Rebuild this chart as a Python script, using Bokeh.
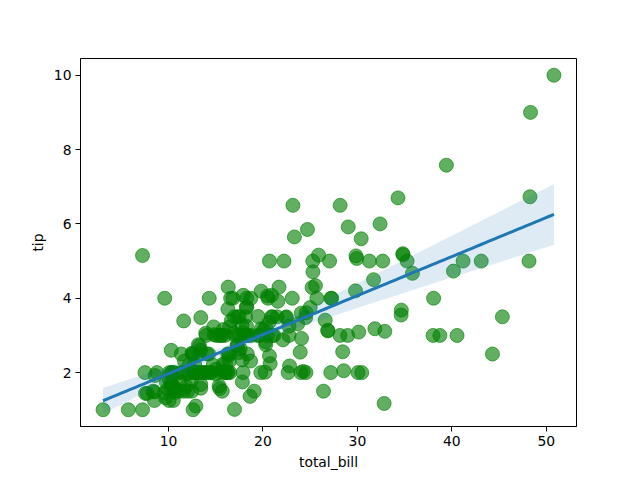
import numpy as np
from bokeh.plotting import figure
from bokeh.models import FixedTicker, Range1d
from bokeh.embed import file_html
from bokeh.resources import INLINE

total_bill = [16.99,10.34,21.01,23.68,24.59,25.29,8.77,26.88,15.04,14.78,10.27,35.26,15.42,18.43,14.83,21.58,10.33,16.29,16.97,20.65,
17.92,20.29,15.77,39.42,19.82,17.81,13.37,12.69,21.7,19.65,9.55,18.35,15.06,20.69,17.78,24.06,16.31,16.93,18.69,31.27,
16.04,17.46,13.94,9.68,30.4,18.29,22.23,32.4,28.55,18.04,12.54,10.29,34.81,9.94,25.56,19.49,38.01,26.41,11.24,48.27,
20.29,13.81,11.02,18.29,17.59,20.08,16.45,3.07,20.23,15.01,12.02,17.07,26.86,25.28,14.73,10.51,17.92,27.2,22.76,17.29,
19.44,16.66,10.07,32.68,15.98,34.83,13.03,18.28,24.71,21.16,28.97,22.49,5.75,16.32,22.75,40.17,27.28,12.03,21.01,12.46,
11.35,15.38,44.3,22.42,20.92,15.36,20.49,25.21,18.24,14.31,14.0,7.25,38.07,23.95,25.71,17.31,29.93,10.65,12.43,24.08,
11.69,13.42,14.26,15.95,12.48,29.8,8.52,14.52,11.38,22.82,19.08,20.27,11.17,12.26,18.26,8.51,10.33,14.15,16.0,13.16,
17.47,34.3,41.19,27.05,16.43,8.35,18.64,11.87,9.78,7.51,14.07,13.13,17.26,24.55,19.77,29.85,48.17,25.0,13.39,16.49,
21.5,12.66,16.21,13.81,17.51,24.52,20.76,31.71,10.59,10.63,50.81,15.81,7.25,31.85,16.82,32.9,17.89,14.48,9.6,34.63,
34.65,23.33,45.35,23.17,40.55,20.69,20.9,30.46,18.15,23.1,15.69,19.81,28.44,15.48,16.58,7.56,10.34,43.11,13.0,13.51,
18.71,12.74,13.0,16.4,20.53,16.47,26.59,38.73,24.27,12.76,30.06,25.89,48.33,13.27,28.17,12.9,28.15,11.59,7.74,30.14,
12.16,13.42,8.58,15.98,13.42,16.27,10.09,20.45,13.28,22.12,24.01,15.69,11.61,10.77,15.53,10.07,12.6,32.83,35.83,29.03,
27.18,22.67,17.82,18.78]
tip = [1.01,1.66,3.5,3.31,3.61,4.71,2.0,3.12,1.96,3.23,1.71,5.0,1.57,3.0,3.02,3.92,1.67,3.71,3.5,3.35,
4.08,2.75,2.23,7.58,3.18,2.34,2.0,2.0,4.3,3.0,1.45,2.5,3.0,2.45,3.27,3.6,2.0,3.07,2.31,5.0,
2.24,2.54,3.06,1.32,5.6,3.0,5.0,6.0,2.05,3.0,2.5,2.6,5.2,1.56,4.34,3.51,3.0,1.5,1.76,6.73,
3.21,2.0,1.98,3.76,2.64,3.15,2.47,1.0,2.01,2.09,1.97,3.0,3.14,5.0,2.2,1.25,3.08,4.0,3.0,2.71,
3.0,3.4,1.83,5.0,2.03,5.17,2.0,4.0,5.85,3.0,3.0,3.5,1.0,4.3,3.25,4.73,4.0,1.5,3.0,1.5,
2.5,3.0,2.5,3.48,4.08,1.64,4.06,4.29,3.76,4.0,3.0,1.0,4.0,2.55,4.0,3.5,5.07,1.5,1.8,2.92,
2.31,1.68,2.5,2.0,2.52,4.2,1.48,2.0,2.0,2.18,1.5,2.83,1.5,2.0,3.25,1.25,2.0,2.0,2.0,2.75,
3.5,6.7,5.0,5.0,2.3,1.5,1.36,1.63,1.73,2.0,2.5,2.0,2.74,2.0,2.0,5.14,5.0,3.75,2.61,2.0,
3.5,2.5,2.0,2.0,3.0,3.48,2.24,4.5,1.61,2.0,10.0,3.16,5.15,3.18,4.0,3.11,2.0,2.0,4.0,3.55,
3.68,5.65,3.5,6.5,3.0,5.0,3.5,2.0,3.5,4.0,1.5,4.19,2.56,2.02,4.0,1.44,2.0,5.0,2.0,2.0,
4.0,2.01,2.0,2.5,4.0,3.23,3.41,3.0,2.03,2.23,2.0,5.16,9.0,2.5,6.5,1.1,3.0,1.5,1.44,3.09,
2.2,3.48,1.92,3.0,1.58,2.5,2.0,3.0,2.72,2.88,2.0,3.0,3.39,1.47,3.0,1.25,1.0,1.17,4.67,5.92,
2.0,2.0,1.75,3.0]

x_ticks = [10, 20, 30, 40, 50]
y_ticks = [2, 4, 6, 8, 10]

x = np.array(total_bill)
y = np.array(tip)
n = len(x)

# OLS fit with heteroscedasticity-robust (HC3) confidence band
X = np.column_stack([np.ones(n), x])
XtX_inv = np.linalg.inv(X.T @ X)
beta = XtX_inv @ X.T @ y
resid = y - X @ beta
h = np.einsum("ij,jk,ik->i", X, XtX_inv, X)
meat = (X * (resid / (1 - h))[:, None] ** 2).T @ X
cov = XtX_inv @ meat @ XtX_inv
grid = np.linspace(x.min(), x.max(), 100)
G = np.column_stack([np.ones_like(grid), grid])
fit = G @ beta
se = np.sqrt(np.einsum("ij,jk,ik->i", G, cov, G))
lower = fit - 1.96 * se
upper = fit + 1.96 * se

xpad = (x.max() - x.min()) * 0.05
ypad = (y.max() - y.min()) * 0.05

p = figure(width=632, height=472, output_backend="svg", toolbar_location=None,
           x_range=Range1d(x.min() - xpad, x.max() + xpad),
           y_range=Range1d(y.min() - ypad, y.max() + ypad),
           min_border_left=80, min_border_right=56, min_border_top=58, min_border_bottom=45)
p.background_fill_color = "white"
p.border_fill_color = "white"
p.outline_line_color = "black"
p.outline_line_width = 1
p.grid.visible = False

p.scatter(x, y, size=14, fill_color="#008000", fill_alpha=0.62,
          line_color="#008000", line_alpha=0.62, line_width=1)
p.varea(x=grid, y1=lower, y2=upper, fill_color="#1f77b4", fill_alpha=0.15)
p.line(grid, fit, line_color="#1f77b4", line_width=3)

p.xaxis.ticker = FixedTicker(ticks=x_ticks)
p.yaxis.ticker = FixedTicker(ticks=y_ticks)
p.xaxis.axis_label = "total_bill"
p.yaxis.axis_label = "tip"
for ax in (p.xaxis[0], p.yaxis[0]):
    ax.axis_line_color = "black"
    ax.major_tick_in = 0
    ax.major_tick_out = 5
    ax.minor_tick_line_color = None
    ax.major_label_text_font = "DejaVu Sans"
    ax.major_label_text_font_size = "13.9px"
    ax.major_label_text_color = "black"
    ax.axis_label_text_font = "DejaVu Sans"
    ax.axis_label_text_font_size = "13.9px"
    ax.axis_label_text_font_style = "normal"
    ax.axis_label_text_color = "black"
    ax.major_label_standoff = 4
p.yaxis.major_label_orientation = "horizontal"

open("out.html", "w").write(file_html(p, INLINE))
